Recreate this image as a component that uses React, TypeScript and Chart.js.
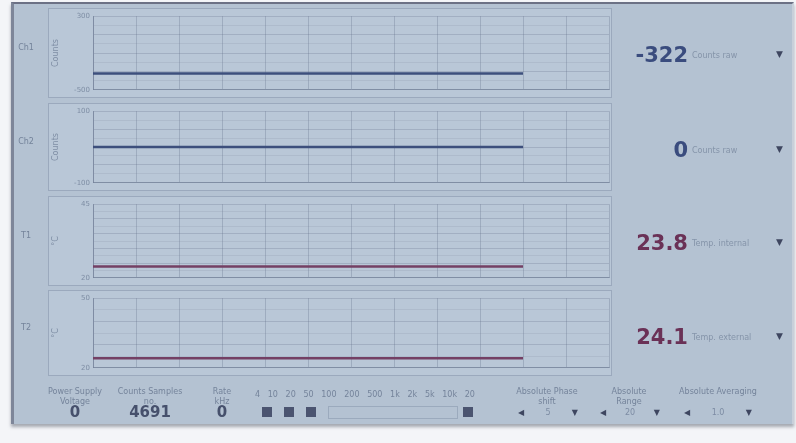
import React, { useEffect, useRef } from "react";
import { Chart, registerables } from "chart.js";

Chart.register(...registerables);

// ---- data ----
const timeS = [0, 10, 20, 30, 40, 50, 60, 70, 80, 90, 100];
const ch1Counts = [-322, -322, -322, -322, -322, -322, -322, -322, -322, -322, -322];
const ch2Counts = [0, 0, 0, 0, 0, 0, 0, 0, 0, 0, 0];
const temp1C = [23.8, 23.8, 23.8, 23.8, 23.8, 23.8, 23.8, 23.8, 23.8, 23.8, 23.8];
const temp2C = [24.1, 24.1, 24.1, 24.1, 24.1, 24.1, 24.1, 24.1, 24.1, 24.1, 24.1];
const channelNames = ["Ch1", "Ch2", "T1", "T2"];
const axisTitles = ["Counts", "Counts", "°C", "°C"];
const yMins = [-500, -100, 20, 20];
const yMaxs = [300, 100, 45, 50];
const ySteps = [100, 25, 2.5, 5];
const xMax = 120;
const readouts = ["-322", "0", "23.8", "24.1"];
const readoutUnits = ["Counts raw", "Counts raw", "Temp. internal", "Temp. external"];
const bottomLabels = ["Power Supply Voltage", "Counts Samples no.", "Rate kHz"];
const bottomValues = ["0", "4691", "0"];
const selectorLabels = ["Absolute Phase shift", "Absolute Range", "Absolute Averaging"];
const selectorValues = ["5", "20", "1.0"];
const stepLabels = ["4", "10", "20", "50", "100", "200", "500", "1k", "2k", "5k", "10k", "20"];

const seriesList = [ch1Counts, ch2Counts, temp1C, temp2C];
const lineColors = ["#3d4f7c", "#3d4f7c", "#744064", "#744064"];
const readoutColors = ["#3a4c7e", "#3a4c7e", "#6a3156", "#6a3156"];

const panelTops = [8, 103, 196, 290];
const panelHeights = [90, 88, 90, 86];

const SCREEN_BG = "#b4c2d2";
const FAINT = "rgba(120,135,158,0.9)";

function ChartPanel({ idx }: { idx: number }) {
  const ref = useRef<HTMLCanvasElement | null>(null);
  useEffect(() => {
    if (!ref.current) return;
    const min = yMins[idx];
    const max = yMaxs[idx];
    const chart = new Chart(ref.current, {
      type: "line",
      data: {
        datasets: [
          {
            data: timeS.map((t, i) => ({ x: t, y: seriesList[idx][i] })),
            borderColor: lineColors[idx],
            borderWidth: 2.5,
            pointRadius: 0,
            tension: 0,
          },
        ],
      },
      options: {
        animation: false,
        responsive: false,
        maintainAspectRatio: false,
        layout: { padding: { top: 4, bottom: 4, right: 2, left: 0 } },
        plugins: { legend: { display: false }, tooltip: { enabled: false } },
        scales: {
          x: {
            type: "linear",
            min: 0,
            max: xMax,
            ticks: { display: false, stepSize: 10 },
            border: { color: "rgba(95,110,135,0.5)" },
            grid: {
              color: "rgba(95,110,135,0.3)",
              drawTicks: false,
            },
          },
          y: {
            min,
            max,
            afterFit: (s: any) => {
              s.width = 44;
            },
            title: {
              display: true,
              text: axisTitles[idx],
              color: FAINT,
              font: { size: 8, family: "DejaVu Sans" },
              padding: 2,
            },
            ticks: {
              stepSize: ySteps[idx],
              autoSkip: false,
              color: FAINT,
              font: { size: 7, family: "DejaVu Sans" },
              padding: 3,
              callback: (v: any) => (v === min || v === max ? String(v) : ""),
            },
            border: { color: "rgba(95,110,135,0.5)" },
            grid: {
              color: (c: any) =>
                c.index % 2 === 0 ? "rgba(95,110,135,0.26)" : "rgba(95,110,135,0.12)",
              drawTicks: false,
            },
          },
        },
      },
    });
    return () => chart.destroy();
  }, [idx]);
  return (
    <div
      style={{
        position: "absolute",
        left: 48,
        top: panelTops[idx],
        width: 564,
        height: panelHeights[idx],
        border: "1px solid rgba(110,125,150,0.4)",
        boxSizing: "border-box",
        background: "#b9c7d7",
      }}
    >
      <canvas ref={ref} width={562} height={panelHeights[idx] - 2} style={{ display: "block" }} />
    </div>
  );
}

export default function App() {
  const faintText: React.CSSProperties = {
    fontFamily: "DejaVu Sans, sans-serif",
    fontSize: 8,
    color: "rgba(105,120,145,0.85)",
    lineHeight: "10px",
    textAlign: "center",
  };
  return (
    <div
      style={{
        position: "absolute",
        left: 0,
        top: 0,
        width: 796,
        height: 443,
        background: "#f4f5f8",
        overflow: "hidden",
      }}
    >
      <div
        style={{
          position: "absolute",
          left: 11,
          top: 2,
          width: 778,
          height: 420,
          background: SCREEN_BG,
          borderLeft: "3px solid #7e8699",
          borderTop: "2px solid #6c7185",
          borderRight: "2px solid #c9d0da",
          boxShadow: "0 3px 3px rgba(90,95,110,0.5)",
          filter: "blur(0.4px)",
        }}
      >
        <div style={{ position: "absolute", left: -14, top: -4, width: 796, height: 443 }}>
          {channelNames.map((n, i) => (
            <div
              key={"cn" + i}
              style={{
                ...faintText,
                position: "absolute",
                left: 16,
                top: panelTops[i] + panelHeights[i] / 2 - 10,
                width: 20,
              }}
            >
              {n}
            </div>
          ))}
          {[0, 1, 2, 3].map((i) => (
            <ChartPanel key={i} idx={i} />
          ))}
          {readouts.map((r, i) => (
            <div key={"ro" + i}>
              <div
                style={{
                  position: "absolute",
                  left: 612,
                  top: panelTops[i] + 34,
                  width: 76,
                  textAlign: "right",
                  fontFamily: "DejaVu Sans, sans-serif",
                  fontWeight: "bold",
                  fontSize: 21,
                  lineHeight: "26px",
                  color: readoutColors[i],
                }}
              >
                {r}
              </div>
              <div
                style={{
                  position: "absolute",
                  left: 692,
                  top: panelTops[i] + 43,
                  width: 80,
                  fontFamily: "DejaVu Sans, sans-serif",
                  fontSize: 8,
                  color: "rgba(125,140,162,0.85)",
                  lineHeight: "10px",
                  whiteSpace: "nowrap",
                }}
              >
                {readoutUnits[i]}
              </div>
              <div
                style={{
                  position: "absolute",
                  left: 776,
                  top: panelTops[i] + 41,
                  fontSize: 9,
                  color: "#3e4660",
                  fontFamily: "DejaVu Sans, sans-serif",
                }}
              >
                ▼
              </div>
            </div>
          ))}
          {bottomLabels.map((l, i) => (
            <div key={"bl" + i}>
              <div
                style={{
                  ...faintText,
                  position: "absolute",
                  left: [40, 115, 205][i],
                  top: 387,
                  width: [70, 70, 34][i],
                }}
              >
                {l}
              </div>
              <div
                style={{
                  position: "absolute",
                  left: [40, 115, 205][i],
                  top: 404,
                  width: [70, 70, 34][i],
                  textAlign: "center",
                  fontFamily: "DejaVu Sans, sans-serif",
                  fontWeight: "bold",
                  fontSize: 15,
                  lineHeight: "17px",
                  color: "#46506c",
                }}
              >
                {bottomValues[i]}
              </div>
            </div>
          ))}
          <div
            style={{
              ...faintText,
              position: "absolute",
              left: 255,
              top: 390,
              width: 220,
              display: "flex",
              justifyContent: "space-between",
            }}
          >
            {stepLabels.map((s, i) => (
              <span key={"sl" + i}>{s}</span>
            ))}
          </div>
          {[262, 284, 306].map((x, i) => (
            <div
              key={"sq" + i}
              style={{
                position: "absolute",
                left: x,
                top: 407,
                width: 10,
                height: 10,
                background: "#4b5470",
              }}
            />
          ))}
          <div
            style={{
              position: "absolute",
              left: 328,
              top: 406,
              width: 128,
              height: 11,
              border: "1px solid rgba(130,145,168,0.5)",
            }}
          />
          <div
            style={{
              position: "absolute",
              left: 463,
              top: 407,
              width: 10,
              height: 10,
              background: "#4b5470",
            }}
          />
          {selectorLabels.map((l, i) => (
            <div key={"sel" + i}>
              <div
                style={{
                  ...faintText,
                  position: "absolute",
                  left: [512, 598, 678][i],
                  top: 387,
                  width: [70, 62, 80][i],
                }}
              >
                {l}
              </div>
              <div
                style={{
                  position: "absolute",
                  left: [518, 600, 684][i],
                  top: 408,
                  width: [60, 60, 68][i],
                  display: "flex",
                  justifyContent: "space-between",
                  fontFamily: "DejaVu Sans, sans-serif",
                  fontSize: 8,
                  lineHeight: "10px",
                  color: "#3e4660",
                }}
              >
                <span>◀</span>
                <span style={{ color: "rgba(115,130,155,0.85)" }}>{selectorValues[i]}</span>
                <span>▼</span>
              </div>
            </div>
          ))}
        </div>
      </div>
    </div>
  );
}
